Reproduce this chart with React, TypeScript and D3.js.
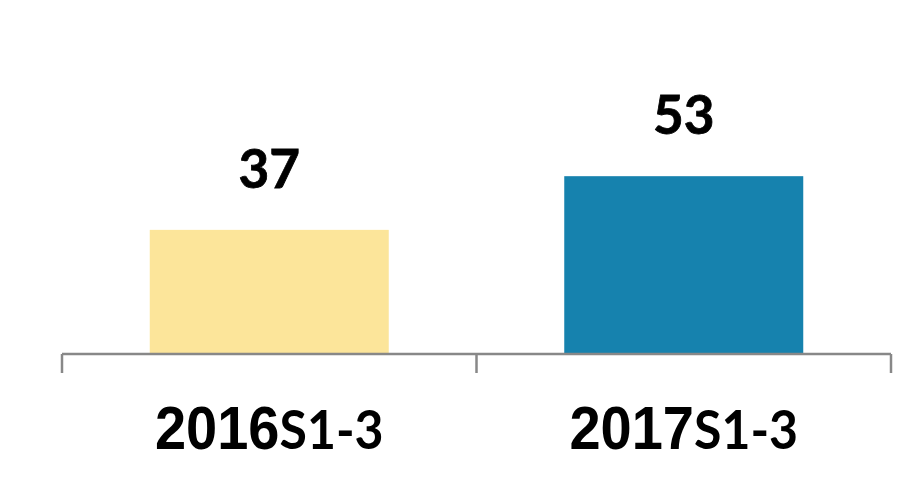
import React from "react";
import * as d3 from "d3";

const categories = ["2016", "2017"];
const suffixes = ["S1-3", "S1-3"];
const values = [37, 53];
const colors = ["#fce59a", "#1682ae"];

const W = 918;
const H = 480;
const axisY = 354;
const left = 62;
const right = 891;

export default function App() {
  const x = d3.scaleBand<string>().domain(categories).range([left, right]).paddingInner(0.4234).paddingOuter(0.2117);
  const y = d3.scaleLinear().domain([0, 60]).range([axisY, axisY - 201.3]);
  const step = x.step();
  const boundaries = d3.range(categories.length + 1).map((i) => left + i * step);
  return (
    <svg width={W} height={H} style={{ position: "absolute", left: 0, top: 0, background: "#fff" }}>
      {categories.map((c, i) => (
        <rect key={c} x={x(c)} y={y(values[i])} width={x.bandwidth()} height={axisY - y(values[i])} fill={colors[i]} />
      ))}
      <line x1={left} x2={right} y1={axisY} y2={axisY} stroke="#888" strokeWidth={2.5} />
      {boundaries.map((b, i) => (
        <line key={i} x1={b} x2={b} y1={axisY} y2={axisY + 19} stroke="#888" strokeWidth={2.5} />
      ))}
      {categories.map((c, i) => (
        <text key={"v" + c} x={x(c)! + x.bandwidth() / 2} y={y(values[i]) - 42} textAnchor="middle"
          fontFamily="Lato, 'Open Sans', sans-serif" fontWeight="bold" fontSize={53} fill="#000"
          stroke="#000" strokeWidth={0.8}>
          {values[i]}
        </text>
      ))}
      {categories.map((c, i) => {
        const cx = x(c)! + x.bandwidth() / 2;
        return (
          <g key={"c" + c} transform={`translate(${cx},449) scale(1,1.08)`}>
            <text x={0} y={0} textAnchor="middle" fill="#000" fontWeight="bold">
              <tspan fontFamily="'Liberation Sans', Arial, sans-serif" fontSize={56}>{c}</tspan>
              <tspan fontFamily="Lato, sans-serif" fontSize={50}>{suffixes[i]}</tspan>
            </text>
          </g>
        );
      })}
    </svg>
  );
}
